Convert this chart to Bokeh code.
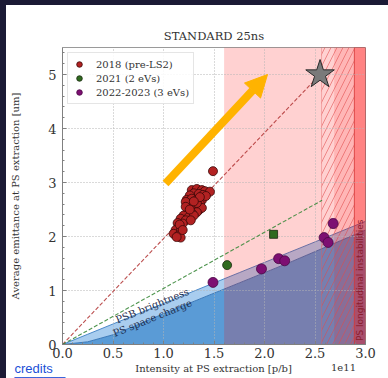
import numpy as np
from bokeh.plotting import figure
from bokeh.models import (Range1d, Label, Arrow, NormalHead, Whisker, TeeHead,
                          ColumnDataSource, Legend, LegendItem, PrintfTickFormatter,
                          FixedTicker)
from bokeh.layouts import column
from bokeh.embed import file_html
from bokeh.resources import INLINE
from bokeh.core.properties import value

# ---------------- data (intensity in units of 1e11 p/b, emittance in um) -------------
x2018 = [1.28, 1.33, 1.38, 1.41, 1.46, 1.30, 1.35, 1.39, 1.26, 1.23, 1.28, 1.33, 1.38,
         1.36, 1.32, 1.27, 1.22, 1.30, 1.35, 1.38, 1.33, 1.28, 1.23, 1.20, 1.25, 1.30,
         1.17, 1.22, 1.27, 1.19, 1.14, 1.15, 1.12, 1.17, 1.10, 1.15, 1.17, 1.13,
         1.22, 1.26, 1.16, 1.19, 1.33, 1.42, 1.36, 1.30, 1.49]
y2018 = [2.86, 2.88, 2.86, 2.84, 2.83, 2.80, 2.79, 2.77, 2.76, 2.68, 2.70, 2.68, 2.67,
         2.61, 2.57, 2.61, 2.64, 2.51, 2.49, 2.53, 2.45, 2.43, 2.42, 2.39, 2.36, 2.39,
         2.33, 2.30, 2.30, 2.24, 2.25, 2.17, 2.12, 2.11, 2.05, 2.02, 1.98, 1.99,
         2.55, 2.50, 2.22, 2.12, 2.62, 2.75, 2.73, 2.65, 3.21]

x2021_circle = [1.63]
y2021_circle = [1.47]
x2021_square = [2.09]
y2021_square = [2.04]

x2022 = [1.49, 1.97, 2.14, 2.20, 2.59, 2.63, 2.68]
y2022 = [1.15, 1.40, 1.59, 1.55, 1.98, 1.89, 2.24]
err_x = [2.68]
err_lo = [2.16]
err_hi = [2.32]

star_x = [2.55]
star_y = [5.0]

line2018_x = [0.0, 2.55]
line2018_y = [0.0, 5.0]
line2021_x = [0.0, 2.57]
line2021_y = [0.0, 2.67]

# limitation curves
lim_x = [0, 0.25, 0.5, 0.75, 1.0, 1.25, 1.5, 1.75, 2.0, 2.25, 2.5, 2.75, 3.0]
psb_brightness = [0, 0.19, 0.38, 0.57, 0.76, 0.95, 1.14, 1.33, 1.52, 1.71, 1.90, 2.09, 2.28]
ps_space_charge = [0, 0.05, 0.18, 0.37, 0.57, 0.76, 0.95, 1.14, 1.33, 1.52, 1.72, 1.92, 2.12]

# shaded intensity regions
pink_left, pink_right = 1.6, 3.0
dark_pink_left, dark_pink_right = 2.69, 3.0
hatch_left, hatch_right = 2.565, 2.89
instab_left, instab_right = 2.89, 3.0
y_top = 5.5

arrow_start = (1.02, 2.98)
arrow_end = (2.03, 5.0)

x_ticks = [0.0, 0.5, 1.0, 1.5, 2.0, 2.5, 3.0]
y_ticks = [0, 1, 2, 3, 4, 5]

SERIF = "DejaVu Serif"
TXT = "#333333"
DARK = "#1b1a35"

p = figure(width=382, height=357, x_range=Range1d(0, 3.0), y_range=Range1d(0, y_top),
           output_backend="svg", toolbar_location=None,
           min_border_left=56, min_border_right=23, min_border_top=42, min_border_bottom=18,
           margin=(5, 0, 0, 6), background_fill_color="white", border_fill_color="white")
p.frame_align = False

p.title.text = "STANDARD 25ns"
p.title.align = "center"
p.title.text_font = SERIF
p.title.text_font_size = "11.5px"
p.title.text_font_style = "normal"
p.title.text_color = TXT
p.title.standoff = 10

p.outline_line_color = "#9a9a9a"
p.outline_line_width = 1

# ---- blue limitation areas (drawn first, under pink) ----
p.varea(x=lim_x, y1=[0] * len(lim_x), y2=ps_space_charge, fill_color="#5a9bd6",
        fill_alpha=1.0, level="image")
p.varea(x=lim_x, y1=ps_space_charge, y2=psb_brightness, fill_color="#a9cdef",
        fill_alpha=1.0, level="image")
p.line(lim_x, psb_brightness, line_color="#4a88c8", line_width=1, level="image")
p.line(lim_x, ps_space_charge, line_color="#3a78b8", line_width=1, level="image")

# ---- pink / red regions ----
p.quad(left=[pink_left], right=[pink_right], bottom=[0], top=[y_top], fill_color="red",
       fill_alpha=0.18, line_color=None, level="image")
p.quad(left=[dark_pink_left], right=[dark_pink_right], bottom=[0], top=[y_top],
       fill_color="red", fill_alpha=0.13, line_color=None, level="image")
p.quad(left=[hatch_left], right=[hatch_right], bottom=[0], top=[y_top],
       fill_color=None, line_color="#e06060", line_alpha=0.5, line_width=0.8,
       hatch_pattern="/", hatch_color="#e04848", hatch_alpha=0.55, hatch_scale=12,
       hatch_weight=1, level="image")
p.quad(left=[instab_left], right=[instab_right], bottom=[0], top=[y_top],
       fill_color="red", fill_alpha=0.28, line_color="#d03030", line_alpha=0.6,
       line_width=1, level="image")

# ---- trend lines ----
p.line(line2018_x, line2018_y, line_color="#b53c3c", line_width=1.1, line_dash="4 2",
       line_alpha=0.9)
p.line(line2021_x, line2021_y, line_color="#3c8a3c", line_width=1.1, line_dash="4 2",
       line_alpha=0.9)

# ---- data points ----
r2018 = p.scatter(x2018, y2018, marker="circle", size=9, fill_color="#b22222",
                  line_color="#3a0808", line_width=0.8)
r2021 = p.scatter(x2021_circle, y2021_circle, marker="circle", size=9,
                  fill_color="#2f6a1f", line_color="#1a2a10", line_width=0.8)
p.scatter(x2021_square, y2021_square, marker="square", size=8, fill_color="#2f6a1f",
          line_color="#1a2a10", line_width=0.8)
src_err = ColumnDataSource(dict(x=err_x, lo=err_lo, hi=err_hi))
p.add_layout(Whisker(source=src_err, base="x", lower="lo", upper="hi",
                     line_color="#7d0f72", line_width=1,
                     upper_head=TeeHead(size=7, line_color="#7d0f72"),
                     lower_head=TeeHead(size=7, line_color="#7d0f72")))
r2022 = p.scatter(x2022, y2022, marker="circle", size=10, fill_color="#7d0f72",
                  line_color="#4a0844", line_width=0.8)

p.scatter(star_x, star_y, marker="star", size=30, fill_color="#7a7a7a",
          line_color="#2a2a2a", line_width=1)

# ---- arrow ----
ORANGE = "#ffb300"
p.add_layout(Arrow(end=NormalHead(size=22, fill_color=ORANGE, line_color=ORANGE),
                   x_start=arrow_start[0], y_start=arrow_start[1],
                   x_end=arrow_end[0], y_end=arrow_end[1],
                   line_color=ORANGE, line_width=8))

# ---- region labels ----
p.add_layout(Label(x=0.89, y=0.72, text="PSB brightness", angle=22, angle_units="deg",
                   text_align="center", text_baseline="middle", text_font=SERIF,
                   text_font_size="10px", text_color="#1f2d4d"))
p.add_layout(Label(x=0.89, y=0.49, text="PS space charge", angle=22, angle_units="deg",
                   text_align="center", text_baseline="middle", text_font=SERIF,
                   text_font_size="10px", text_color="#1f2d4d"))
p.add_layout(Label(x=2.95, y=1.19, text="PS longitudinal instabilities", angle=90,
                   angle_units="deg", text_align="center", text_baseline="middle",
                   text_font="DejaVu Sans", text_font_size="9px", text_color="#8b1c2c"))

# ---- axes ----
p.xaxis.ticker = FixedTicker(ticks=x_ticks,
                             minor_ticks=[i / 10 for i in range(31)])
p.yaxis.ticker = FixedTicker(ticks=y_ticks,
                             minor_ticks=[i / 5 for i in range(28)])
p.xaxis.formatter = PrintfTickFormatter(format="%.1f")
p.yaxis.formatter = PrintfTickFormatter(format="%d")
for ax in (p.xaxis[0], p.yaxis[0]):
    ax.major_tick_in = 4
    ax.major_tick_out = 0
    ax.minor_tick_in = 2
    ax.minor_tick_out = 0
    ax.axis_line_color = "#808080"
    ax.major_tick_line_color = "#808080"
    ax.minor_tick_line_color = "#808080"
    ax.major_label_text_font = SERIF
    ax.major_label_text_font_size = "13px"
    ax.major_label_text_color = TXT
    ax.axis_label_text_font = SERIF
    ax.axis_label_text_font_size = "10px"
    ax.axis_label_text_font_style = "normal"
    ax.axis_label_text_color = TXT
p.yaxis.axis_label = "Average emittance at PS extraction [um]"
p.xaxis.major_label_standoff = 3
p.yaxis.major_label_standoff = 6
p.yaxis.axis_label_standoff = 24

p.grid.grid_line_color = "#b5b5b5"
p.grid.grid_line_dash = "1 2"
p.grid.grid_line_width = 1
p.xgrid.ticker = FixedTicker(ticks=x_ticks)
p.ygrid.ticker = FixedTicker(ticks=y_ticks)

# ---- legend ----
legend = Legend(items=[LegendItem(label="2018 (pre-LS2)", renderers=[r2018]),
                       LegendItem(label="2021 (2 eVs)", renderers=[r2021]),
                       LegendItem(label="2022-2023 (3 eVs)", renderers=[r2022])],
                location="top_left", margin=5, padding=4, spacing=0,
                label_height=14, glyph_height=14, glyph_width=14, label_standoff=10,
                label_text_font=SERIF, label_text_font_size="10px",
                label_text_color=TXT, border_line_color="#cccccc",
                background_fill_color="white", background_fill_alpha=0.85)
p.add_layout(legend)

# ---- bottom strip: x-axis label, offset text, credits (screen-pixel coordinates) ----
s = figure(width=382, height=16, x_range=Range1d(0, 382), y_range=Range1d(0, 16),
           output_backend="svg", toolbar_location=None, x_axis_type=None,
           y_axis_type=None, min_border=0, min_border_left=0, min_border_right=0,
           min_border_top=0, min_border_bottom=0, margin=(0, 0, 0, 6),
           background_fill_color="white", border_fill_color="white")
s.frame_align = False
s.outline_line_color = None
s.add_layout(Label(x=207, y=10, text="Intensity at PS extraction [p/b]",
                   text_align="center", text_baseline="middle", text_font=SERIF,
                   text_font_size="10px", text_color=TXT))
s.add_layout(Label(x=337, y=11, text="1e11", text_align="center",
                   text_baseline="middle", text_font=SERIF, text_font_size="10px",
                   text_color=TXT))
s.add_layout(Label(x=8, y=10, text="credits", text_align="left",
                   text_baseline="middle", text_font="Liberation Sans",
                   text_font_size="13px", text_color="#1a4fd6"))
s.add_layout(Label(x=8, y=8, text="_______", text_align="left",
                   text_baseline="middle", text_font="Liberation Sans",
                   text_font_size="13px", text_color="#1a4fd6"))

bg = (f"linear-gradient({DARK} 0px, {DARK} 5px, transparent 5px), "
      f"linear-gradient(to right, {DARK} 0px, {DARK} 6px, #ffffff 6px)")
layout = column(p, s, width=388, height=378, spacing=0, styles={"background": bg})

open("out.html", "w").write(file_html(layout, INLINE))
